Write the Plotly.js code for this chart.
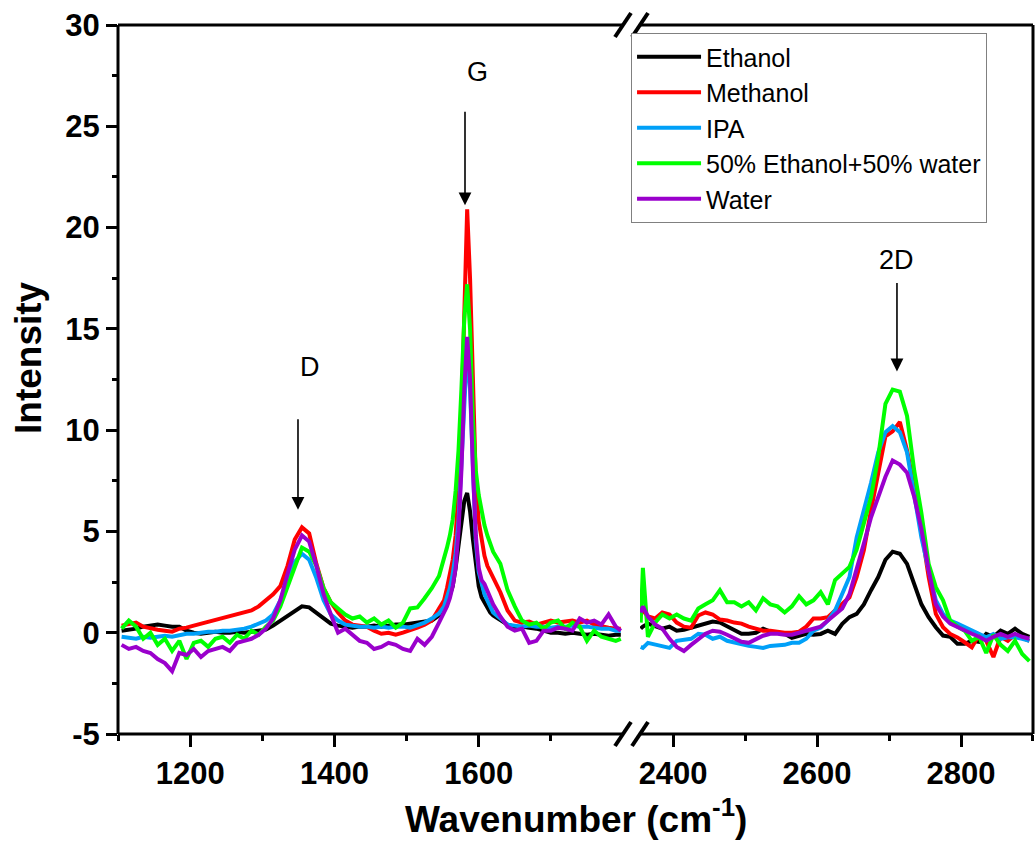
<!DOCTYPE html>
<html>
<head>
<meta charset="utf-8">
<script src="https://cdn.plot.ly/plotly-3.0.1.min.js"></script>
<style>
  html, body { margin: 0; padding: 0; background: #ffffff; }
  #chart { width: 1036px; height: 841px; }
</style>
</head>
<body>
<div id="chart"></div>
<script>
// ---------------- DATA ----------------
const seriesNames = ["Ethanol", "Methanol", "IPA", "50% Ethanol+50% water", "Water"];
const seriesColors = ["#000000", "#FF0000", "#00A0F8", "#00FF00", "#9A00CC"];

// Left segment wavenumbers (cm-1)
const xLeft = [1105,1115,1125,1135,1145,1155,1165,1175,1185,1195,
  1205,1215,1225,1235,1245,1255,1265,1275,1285,1295,
  1305,1315,1325,1335,1345,1355,1365,1375,1385,1395,
  1405,1415,1425,1435,1445,1455,1465,1475,1485,1495,
  1505,1515,1525,1535,1545,
  1552,1556,1560,1564,1568,1572,1576,1580,1584,1588,1592,1596,1600,1604,1608,1612,1616,1620,
  1630,1640,1650,1660,1670,1680,1690,1700,1710,1720,1730,1740,1750,1760,1770,1780,1790,1797];

// Right segment wavenumbers (cm-1)
const xRight = [2355,2358,
  2365,2375,2385,2395,2405,2415,2425,2435,2445,2455,
  2465,2475,2485,2495,2505,2515,2525,2535,2545,2555,
  2565,2575,2585,2595,2605,2615,2625,2635,2645,2655,
  2665,2675,2685,2695,2705,2715,2725,2735,2745,2755,
  2765,2775,2785,2795,2805,2815,2825,2835,2845,2855,
  2865,2875,2885,2895];

const ethanolLeft = [0.1,0.15,0.2,0.3,0.35,0.4,0.35,0.3,0.3,0.1,
  0.0,-0.05,0.0,0.05,0.0,0.0,0.05,0.0,0.05,0.1,
  0.15,0.35,0.6,0.85,1.1,1.3,1.25,1.0,0.7,0.45,
  0.35,0.3,0.25,0.3,0.3,0.35,0.3,0.35,0.4,0.4,
  0.45,0.5,0.55,0.6,0.85,
  1.1,1.4,1.8,2.3,3.2,4.3,5.6,6.5,6.9,6.0,4.6,3.4,2.3,1.75,1.5,1.2,1.0,0.85,
  0.6,0.4,0.3,0.3,0.25,0.2,0.1,0.0,0.0,-0.05,0.0,-0.05,-0.1,-0.05,-0.1,-0.15,-0.1,-0.1];
const methanolLeft = [0.35,0.45,0.5,0.3,0.2,0.15,0.1,0.05,0.2,0.25,
  0.35,0.45,0.55,0.6,0.7,0.85,0.9,1.0,1.1,1.3,
  1.6,1.9,2.3,3.3,4.6,5.2,4.9,3.4,2.2,1.5,
  1.0,0.6,0.4,0.35,0.3,0.1,-0.05,0.0,-0.1,0.0,
  0.1,0.25,0.4,0.6,1.2,
  1.6,2.2,2.8,3.6,4.8,7.0,10.5,16.0,20.9,17.5,11.5,7.5,5.5,4.5,3.8,3.3,3.0,2.7,
  2.0,1.1,0.6,0.5,0.55,0.4,0.5,0.6,0.5,0.55,0.6,0.5,0.6,0.4,0.3,0.25,0.2,0.2];
const ipaLeft = [-0.2,-0.25,-0.3,-0.2,-0.25,-0.2,-0.15,-0.2,-0.1,-0.05,
  -0.05,0.0,0.05,0.05,0.1,0.1,0.15,0.2,0.3,0.45,
  0.6,0.9,1.6,2.6,3.5,3.9,3.6,2.7,1.6,0.9,
  0.6,0.4,0.35,0.3,0.3,0.25,0.3,0.25,0.3,0.3,
  0.25,0.35,0.5,0.7,0.95,
  1.3,1.7,2.2,2.9,3.9,5.5,8.5,12.0,14.0,12.0,7.5,4.5,3.0,2.4,1.9,1.6,1.3,1.0,
  0.7,0.4,0.35,0.3,0.35,0.3,0.3,0.25,0.3,0.3,0.35,0.3,0.3,0.25,0.2,0.2,0.1,0.1];
const mixLeft = [0.2,0.6,0.3,-0.3,0.0,-0.6,-0.3,-0.9,-0.4,-1.3,
  -0.5,-0.4,-0.7,-0.3,-0.2,-0.5,-0.1,-0.3,0.1,-0.1,
  0.3,0.6,1.3,2.3,3.3,4.2,4.0,3.3,2.2,1.5,
  1.2,0.9,0.7,0.8,0.5,0.7,0.4,0.6,0.25,0.5,
  1.2,1.25,1.7,2.2,2.8,
  3.6,4.2,4.8,5.6,7.0,9.0,12.0,15.5,17.2,15.0,10.5,8.0,6.8,5.9,5.3,4.8,4.4,4.0,
  3.4,2.1,1.3,0.6,0.4,0.5,0.2,0.5,0.6,0.2,0.5,0.3,-0.4,0.1,-0.2,-0.3,-0.4,-0.3];
const waterLeft = [-0.6,-0.8,-0.7,-0.9,-1.0,-1.3,-1.5,-1.9,-1.0,-1.1,
  -0.8,-1.2,-0.9,-0.8,-0.7,-0.9,-0.5,-0.4,-0.3,-0.1,
  0.2,0.7,1.6,2.9,4.1,4.8,4.5,3.3,1.9,0.9,
  0.0,0.2,-0.1,-0.4,-0.5,-0.8,-0.7,-0.5,-0.6,-0.8,
  -0.9,-0.3,-0.6,-0.2,0.5,
  1.0,1.3,1.7,2.3,3.2,5.0,8.0,12.0,14.6,12.5,8.0,4.8,3.2,2.6,2.4,2.1,1.7,1.4,
  0.8,0.3,0.1,0.2,-0.5,-0.4,0.1,0.1,0.25,0.2,0.1,0.7,0.5,0.6,0.4,0.9,0.3,0.1];

const ethanolRight = [0.2,0.3,
  0.45,0.3,0.2,0.3,0.1,0.15,0.25,0.35,0.45,0.55,
  0.5,0.3,0.1,-0.05,-0.05,0.0,0.2,0.05,0.0,-0.05,
  -0.25,-0.15,-0.06,-0.1,-0.06,0.1,-0.06,0.44,0.77,0.93,
  1.4,2.1,2.75,3.6,4.0,3.9,3.4,2.4,1.4,0.77,
  0.27,-0.14,-0.2,-0.55,-0.55,-0.4,-0.45,-0.06,-0.2,0.1,
  -0.06,0.2,-0.06,-0.2];
const methanolRight = [1.0,1.1,
  0.8,0.7,1.0,0.9,0.5,0.3,0.25,0.85,1.0,0.9,
  0.65,0.6,0.5,0.45,0.3,0.2,0.1,0.1,0.05,0.0,
  0.0,0.05,0.3,0.7,0.7,0.77,1.1,1.4,1.75,2.75,
  4.07,6.06,8.0,9.7,9.94,10.4,9.0,7.2,5.07,2.75,
  0.93,0.27,-0.06,-0.23,-0.47,-0.72,-0.1,-0.4,-1.2,-0.2,
  -0.4,-0.1,-0.25,-0.4];
const ipaRight = [-0.7,-0.75,
  -0.5,-0.6,-0.7,-0.75,-0.4,-0.35,-0.3,-0.05,-0.1,-0.3,
  -0.2,-0.4,-0.5,-0.6,-0.65,-0.7,-0.75,-0.65,-0.6,-0.6,
  -0.5,-0.5,-0.3,0.1,0.25,0.6,1.1,1.9,2.75,4.7,
  6.0,7.4,8.9,9.9,10.2,9.9,8.9,6.7,4.7,3.1,
  1.6,0.93,0.6,0.45,0.27,0.1,-0.06,-0.23,-0.06,-0.3,
  -0.23,-0.23,-0.3,-0.4];
const mixRight = [0.5,3.2,
  -0.2,0.5,0.9,0.7,0.9,0.7,0.6,1.2,1.4,1.6,
  2.1,1.5,1.5,1.3,1.5,1.1,1.7,1.4,1.3,1.0,
  1.3,1.8,1.4,1.6,2.0,1.4,2.6,2.9,3.25,4.1,
  5.4,6.7,8.7,11.3,12.0,11.9,10.7,8.0,5.9,3.4,
  2.25,1.6,0.6,0.3,0.1,-0.4,-0.2,-1.0,-0.1,-0.6,
  -0.9,-0.4,-1.05,-1.4];
const waterRight = [1.0,1.3,
  0.8,0.4,0.2,-0.3,-0.7,-0.9,-0.6,-0.3,-0.05,0.1,
  0.05,-0.1,-0.3,-0.45,-0.5,-0.3,-0.15,-0.05,-0.05,-0.1,
  -0.1,0.0,0.1,0.2,0.3,0.6,0.9,1.2,1.9,3.1,
  4.4,5.7,6.7,7.7,8.5,8.3,7.9,6.7,5.1,3.1,
  1.4,0.8,0.45,0.27,0.1,-0.05,-0.2,-0.4,-0.2,-0.06,
  -0.2,-0.06,-0.2,-0.3];

const leftSeries = [ethanolLeft, methanolLeft, ipaLeft, mixLeft, waterLeft];
const rightSeries = [ethanolRight, methanolRight, ipaRight, mixRight, waterRight];

// Axis ticks
const xLeftTicks = [1200, 1400, 1600];
const xLeftMinor = [1100, 1300, 1500, 1700];
const xRightTicks = [2400, 2600, 2800];
const xRightMinor = [2500, 2700, 2900];
const yTicks = [-5, 0, 5, 10, 15, 20, 25, 30];
const yMinor = [-2.5, 2.5, 7.5, 12.5, 17.5, 22.5, 27.5];

// Peak labels
const peakLabels = ["D", "G", "2D"];

// ---------------- TRACES ----------------
const traces = [];
seriesNames.forEach((name, i) => {
  traces.push({
    type: "scatter", mode: "lines", name: name,
    x: xLeft, y: leftSeries[i], xaxis: "x", yaxis: "y",
    line: { color: seriesColors[i], width: 4 },
    showlegend: true
  });
});
seriesNames.forEach((name, i) => {
  traces.push({
    type: "scatter", mode: "lines", name: name,
    x: xRight, y: rightSeries[i], xaxis: "x2", yaxis: "y",
    line: { color: seriesColors[i], width: 4 },
    showlegend: false
  });
});

// ---------------- LAYOUT ----------------
const FONT = '"Liberation Sans", Arial, Helvetica, sans-serif';
const dLeftEnd = 0.5519, dRightStart = 0.5705;
const tickFont = { family: FONT, size: 31, color: "#000", weight: "bold" };
const axisCommon = {
  showgrid: false, zeroline: false, showline: false,
  ticks: "outside", ticklen: 12, tickwidth: 3, tickcolor: "#000",
  tickfont: tickFont, tickmode: "array"
};
const minorCommon = { ticks: "outside", ticklen: 6, tickwidth: 3, tickcolor: "#000", showgrid: false };

const lineStyle = { color: "#000", width: 3 };
const shapes = [
  { type: "line", xref: "paper", yref: "paper", x0: 0, x1: 0, y0: 0, y1: 1, line: lineStyle, layer: "above" },
  { type: "line", xref: "paper", yref: "paper", x0: 1, x1: 1, y0: 0, y1: 1, line: lineStyle, layer: "above" },
  { type: "line", xref: "paper", yref: "paper", x0: 0, x1: dLeftEnd, y0: 0, y1: 0, line: lineStyle, layer: "above" },
  { type: "line", xref: "paper", yref: "paper", x0: dRightStart, x1: 1, y0: 0, y1: 0, line: lineStyle, layer: "above" },
  { type: "line", xref: "paper", yref: "paper", x0: 0, x1: dLeftEnd, y0: 1, y1: 1, line: lineStyle, layer: "above" },
  { type: "line", xref: "paper", yref: "paper", x0: dRightStart, x1: 1, y0: 1, y1: 1, line: lineStyle, layer: "above" }
];
// axis-break slashes
[dLeftEnd, dRightStart].forEach(xa => {
  [0, 1].forEach(ya => {
    shapes.push({
      type: "line", xref: "paper", yref: "paper",
      xsizemode: "pixel", xanchor: xa, x0: -8, x1: 8,
      ysizemode: "pixel", yanchor: ya, y0: -12, y1: 12,
      line: { color: "#000", width: 4 }, layer: "above"
    });
  });
});

const arrowCommon = { showarrow: true, arrowhead: 2, arrowsize: 1.6, arrowwidth: 1.6, arrowcolor: "#000", text: "", ax: 0 };
const labelFont = { family: FONT, size: 27, color: "#000" };
const annotations = [
  Object.assign({ xref: "x", yref: "y", x: 1349.5, y: 6.07, ay: -92 }, arrowCommon),
  Object.assign({ xref: "x", yref: "y", x: 1581, y: 21.1, ay: -95 }, arrowCommon),
  Object.assign({ xref: "x2", yref: "y", x: 2711, y: 12.9, ay: -90 }, arrowCommon),
  { xref: "x", yref: "y", x: 1366, y: 13.1, text: peakLabels[0], showarrow: false, font: labelFont },
  { xref: "x", yref: "y", x: 1599, y: 27.7, text: peakLabels[1], showarrow: false, font: labelFont },
  { xref: "x2", yref: "y", x: 2711, y: 18.4, text: peakLabels[2], showarrow: false, font: labelFont },
  { xref: "paper", yref: "paper", x: 0.5, y: -0.117, xanchor: "center", yanchor: "middle",
    text: "Wavenumber (cm<sup>-1</sup>)", showarrow: false,
    font: { family: FONT, size: 37, color: "#000", weight: "bold" } },
  { xref: "paper", yref: "paper", x: -0.0984, y: 0.5317, xanchor: "center", yanchor: "middle",
    text: "Intensity", textangle: -90, showarrow: false,
    font: { family: FONT, size: 37, color: "#000", weight: "bold" } }
];

const layout = {
  width: 1036, height: 841,
  margin: { l: 118, r: 3, t: 25, b: 107, pad: 0 },
  paper_bgcolor: "#ffffff", plot_bgcolor: "#ffffff",
  font: { family: FONT, color: "#000" },
  showlegend: true,
  legend: {
    x: 0.5607, y: 0.9887, xanchor: "left", yanchor: "top",
    bgcolor: "#ffffff", bordercolor: "#808080", borderwidth: 1,
    font: { family: FONT, size: 25, color: "#000" },
    itemwidth: 64, tracegroupgap: 0
  },
  xaxis: Object.assign({}, axisCommon, {
    domain: [0, dLeftEnd], range: [1100, 1800], anchor: "y",
    tickvals: xLeftTicks, ticktext: xLeftTicks.map(String),
    minor: Object.assign({ tickvals: xLeftMinor, tickmode: "array" }, minorCommon)
  }),
  xaxis2: Object.assign({}, axisCommon, {
    domain: [dRightStart, 1], range: [2354, 2900], anchor: "y",
    tickvals: xRightTicks, ticktext: xRightTicks.map(String),
    minor: Object.assign({ tickvals: xRightMinor, tickmode: "array" }, minorCommon)
  }),
  yaxis: Object.assign({}, axisCommon, {
    domain: [0, 1], range: [-5, 30], anchor: "x", ticklen: 11,
    tickvals: yTicks, ticktext: yTicks.map(String),
    minor: Object.assign({ tickvals: yMinor, tickmode: "array" }, minorCommon, { ticklen: 5 })
  }),
  shapes: shapes,
  annotations: annotations
};

Plotly.newPlot("chart", traces, layout, { displayModeBar: false, staticPlot: true });
</script>
</body>
</html>
